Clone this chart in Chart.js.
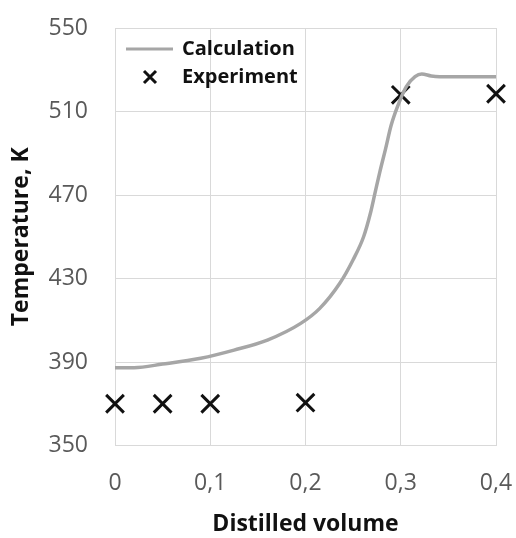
<!DOCTYPE html>
<html>
<head>
<meta charset="utf-8">
<script src="https://cdn.jsdelivr.net/npm/chart.js@4"></script>
<style>
    html, body { margin: 0; padding: 0; background: #fff; }
    #wrap { width: 516px; height: 538px; }
</style>
</head>
<body>
<div id="wrap"><canvas id="tempChart" width="516" height="538"></canvas></div>
<script>
// calculated curve (distilled volume -> temperature, K)
const calcVolume = [0, 0.02, 0.05, 0.09, 0.125, 0.16, 0.195, 0.215, 0.236, 0.25, 0.261, 0.268, 0.273, 0.278, 0.284, 0.29, 0.298, 0.306, 0.315, 0.322, 0.332, 0.341, 0.4];
const calcTemp = [387.3, 387.3, 389, 391.8, 395.7, 400.5, 408.5, 415.7, 427.7, 439, 450, 461, 471, 481, 492, 503.5, 514, 522, 526.7, 528, 527, 526.7, 526.7];

// experimental points
const expVolume = [0, 0.05, 0.1, 0.2, 0.3, 0.4];
const expTemp = [370, 370, 370, 370.5, 518, 518.5];

// axis ticks
const xTicks = [0, 0.1, 0.2, 0.3, 0.4];
const yTicks = [350, 390, 430, 470, 510, 550];

const FONT = "'Open Sans', sans-serif";

//plugin that draws the legend inside the plot area, top-left
const insideLegend = {
    id: 'insideLegend',
    afterDraw(chart) {
        const ctx = chart.ctx;
        const area = chart.chartArea;
        ctx.save();
        // line sample
        ctx.strokeStyle = '#a6a6a6';
        ctx.lineWidth = 3;
        ctx.beginPath();
        ctx.moveTo(area.left + 11, area.top + 21);
        ctx.lineTo(area.left + 58, area.top + 21);
        ctx.stroke();
        // cross sample
        ctx.strokeStyle = '#111';
        ctx.lineWidth = 3;
        const cx = area.left + 35, cy = area.top + 49, r = 6;
        ctx.beginPath();
        ctx.moveTo(cx - r, cy - r); ctx.lineTo(cx + r, cy + r);
        ctx.moveTo(cx + r, cy - r); ctx.lineTo(cx - r, cy + r);
        ctx.stroke();
        ctx.fillStyle = '#111';
        ctx.font = "bold 20px " + FONT;
        ctx.textBaseline = 'middle';
        ctx.fillText('Calculation', area.left + 67, area.top + 21);
        ctx.fillText('Experiment', area.left + 67, area.top + 49);
        ctx.restore();
    }
};

function renderChart() {
    const ctx = document.getElementById('tempChart').getContext('2d');

    new Chart(ctx, {
        type: 'scatter',
        data: {
            datasets: [{
                label: 'Calculation',
                type: 'line',
                data: calcVolume.map((v, i) => ({ x: v, y: calcTemp[i] })),
                borderColor: '#a6a6a6',
                borderWidth: 3.5,
                pointRadius: 0,
                cubicInterpolationMode: 'monotone',
                fill: false
            }, {
                label: 'Experiment',
                data: expVolume.map((v, i) => ({ x: v, y: expTemp[i] })),
                pointStyle: 'crossRot',
                pointRadius: 12.5,
                borderColor: '#111',
                borderWidth: 3,
                backgroundColor: '#111',
                clip: false
            }]
        },
        options: {
            responsive: false,
            animation: false,
            layout: {
                padding: { top: 28, right: 20, left: 0, bottom: 0 }
            },
            scales: {
                x: {
                    type: 'linear',
                    min: 0,
                    max: 0.4,
                    afterBuildTicks: scale => { scale.ticks = xTicks.map(v => ({ value: v })); },
                    afterFit: scale => {
                        scale.height = 92.5;
                        scale.paddingLeft = 0;
                        scale.paddingRight = 0;
                    },
                    ticks: {
                        color: '#595959',
                        padding: 24,
                        font: { family: FONT, size: 23 },
                        callback: v => String(v).replace('.', ',')
                    },
                    grid: { color: '#d9d9d9', lineWidth: 1, drawTicks: false },
                    border: { color: '#d9d9d9' },
                    title: {
                        display: true,
                        text: 'Distilled volume',
                        color: '#111',
                        padding: { top: 0, bottom: 0 },
                        font: { family: FONT, size: 23, weight: 'bold' }
                    }
                },
                y: {
                    min: 350,
                    max: 550,
                    afterBuildTicks: scale => { scale.ticks = yTicks.map(v => ({ value: v })); },
                    afterFit: scale => {
                        scale.width = 115;
                        scale.paddingTop = 0;
                        scale.paddingBottom = 0;
                    },
                    ticks: {
                        color: '#595959',
                        padding: 27,
                        font: { family: FONT, size: 23 }
                    },
                    grid: { color: '#d9d9d9', lineWidth: 1, drawTicks: false },
                    border: { color: '#d9d9d9' },
                    title: {
                        display: true,
                        text: 'Temperature, K',
                        color: '#111',
                        padding: { top: 8, bottom: 0 },
                        font: { family: FONT, size: 23, weight: 'bold' }
                    }
                }
            },
            plugins: {
                legend: { display: false },
                tooltip: { enabled: false }
            }
        },
        plugins: [insideLegend]
    });
}

document.addEventListener("DOMContentLoaded", renderChart);
</script>
</body>
</html>
